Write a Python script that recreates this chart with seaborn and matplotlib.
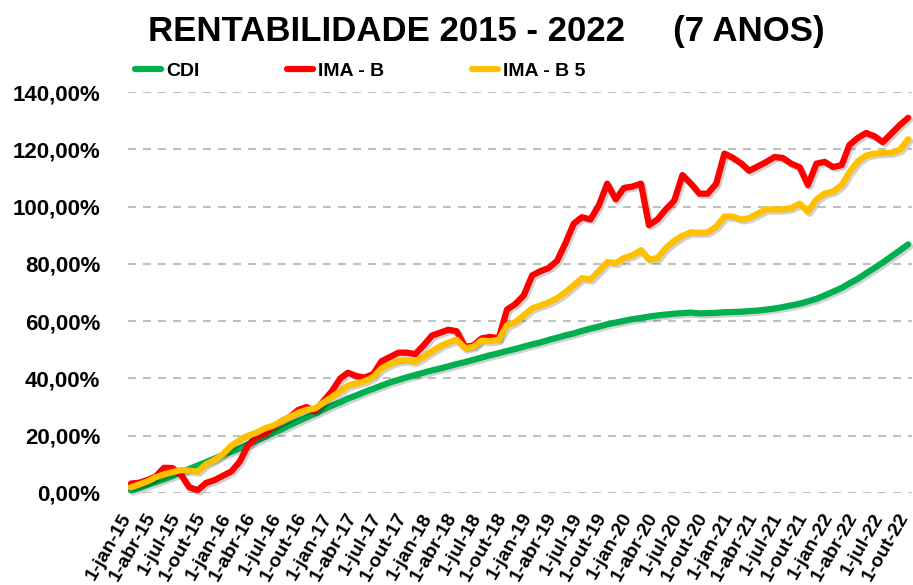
import numpy as np
import pandas as pd
import seaborn as sns
from matplotlib import pyplot as plt
from matplotlib import patheffects as pe

# dados mensais, jan-2015 a out-2022 (% acumulado)
cdi = [
    0.9, 1.8, 2.8, 3.8, 4.8, 5.9, 7.2, 8.4, 9.6, 10.8, 12.0, 13.3,
    14.4, 15.6, 16.9, 18.2, 19.5, 20.9, 22.2, 23.7, 25.1, 26.4, 27.7, 29.1,
    30.5, 31.7, 33.0, 34.1, 35.3, 36.4, 37.5, 38.6, 39.5, 40.4, 41.2, 42.0,
    42.8, 43.5, 44.2, 45.0, 45.7, 46.5, 47.3, 48.1, 48.8, 49.6, 50.3, 51.1,
    51.9, 52.6, 53.4, 54.2, 55.0, 55.7, 56.6, 57.4, 58.1, 58.9, 59.5, 60.1,
    60.7, 61.1, 61.6, 62.0, 62.3, 62.6, 62.8, 63.0, 62.7, 62.8, 62.9, 63.1,
    63.2, 63.3, 63.5, 63.7, 64.0, 64.4, 64.9, 65.5, 66.1, 66.9, 67.8, 69.0,
    70.3, 71.6, 73.2, 74.8, 76.7, 78.6, 80.5, 82.6, 84.7, 86.8,
]
ima_b = [
    3.3, 3.6, 4.5, 5.8, 8.8, 8.7, 6.5, 2.0, 1.0, 3.5, 4.5, 6.0,
    7.5, 11.0, 16.5, 19.5, 20.5, 23.0, 25.0, 26.5, 29.0, 30.0, 28.5, 32.0,
    35.5, 40.0, 42.0, 40.8, 40.3, 41.5, 46.0, 47.5, 49.0, 49.0, 48.5, 51.5,
    55.0, 56.0, 57.0, 56.5, 51.0, 51.5, 54.0, 54.5, 54.0, 64.0, 66.0, 69.0,
    76.0, 77.5, 78.5, 81.0, 87.0, 94.0, 96.3, 95.5, 100.5, 108.0, 102.5, 106.5,
    107.0, 108.0, 93.5, 95.5, 99.0, 102.0, 111.0, 108.0, 104.5, 104.5, 108.0, 118.5,
    117.0, 115.0, 112.5, 114.0, 115.5, 117.3, 117.0, 115.0, 113.7, 107.5, 115.0, 115.6,
    113.8, 114.5, 121.5, 124.0, 125.7, 124.5, 122.5, 125.5, 128.5, 131.0,
]
ima_b5 = [
    2.0, 3.0, 4.0, 5.5, 6.5, 7.3, 8.0, 7.8, 7.5, 10.0, 11.5, 13.5,
    16.5, 18.5, 20.0, 21.0, 22.5, 23.5, 25.0, 26.5, 28.0, 29.0, 29.5, 31.5,
    33.5, 35.5, 37.5, 38.3, 39.0, 40.5, 43.5, 45.0, 46.0, 46.3, 45.8, 47.5,
    49.5, 51.3, 52.5, 53.5, 50.5, 51.0, 53.2, 53.0, 53.5, 58.5, 59.7, 62.0,
    64.5, 65.5, 66.5, 68.0, 70.0, 72.5, 75.0, 74.5, 77.5, 80.6, 80.3, 82.0,
    83.0, 84.8, 81.5, 82.0, 85.5, 88.0, 89.8, 91.0, 90.8, 91.0, 93.0, 96.5,
    96.5, 95.5, 96.0, 97.5, 99.0, 99.0, 99.0, 99.5, 101.0, 98.2, 102.5, 104.5,
    105.3, 107.5, 112.0, 115.8, 117.8, 118.5, 118.7, 118.8, 119.8, 123.5,
]
series = ["CDI", "IMA - B", "IMA - B 5"]
cores = ["#00B050", "#FF0000", "#FFC000"]
meses_pt = {1: "jan", 4: "abr", 7: "jul", 10: "out"}

datas = pd.date_range("2015-01-01", periods=len(cdi), freq="MS")
df = pd.DataFrame({"data": datas, "CDI": cdi, "IMA - B": ima_b, "IMA - B 5": ima_b5})
df = df.melt(id_vars="data", var_name="serie", value_name="valor")

sns.set_style("white")
plt.rcParams["font.family"] = ["Liberation Sans", "DejaVu Sans"]
plt.rcParams["font.weight"] = "bold"
plt.rcParams["text.color"] = "black"
plt.rcParams["xtick.color"] = "black"
plt.rcParams["ytick.color"] = "black"

fig = plt.figure(figsize=(9.13, 5.85), dpi=100)
ax = fig.add_axes([128 / 913, 1 - 493 / 585, (912 - 128) / 913, (493 - 92) / 585])

sns.lineplot(
    data=df, x="data", y="valor", hue="serie", hue_order=series,
    palette=dict(zip(series, cores)), linewidth=4.5, ax=ax,
)
for ln in ax.lines:
    ln.set_solid_capstyle("round")
    ln.set_solid_joinstyle("round")
    ln.set_clip_on(False)
    ln.set_path_effects([
        pe.SimpleLineShadow(offset=(1.5, -1.5), shadow_color="k", alpha=0.18),
        pe.Normal(),
    ])

ax.set_ylim(0, 140)
ax.set_yticks(np.arange(0, 141, 20))
ax.set_yticklabels([f"{v:.2f}".replace(".", ",") + "%" for v in np.arange(0, 141, 20)])
ax.set_xlim(datas[0] - pd.Timedelta(days=11), datas[-1] + pd.Timedelta(days=14))
ticks = [d for d in datas if d.month in meses_pt]
ax.set_xticks(ticks)
ax.set_xticklabels([f"1-{meses_pt[d.month]}-{d.strftime('%y')}" for d in ticks],
                   rotation=60, ha="right", va="baseline", rotation_mode="anchor")
ax.tick_params(axis="y", length=0, pad=20, labelsize=16)
ax.tick_params(axis="x", length=0, pad=17, labelsize=14)
ax.yaxis.grid(True, color="#C0C0C0", linestyle=(0, (3.8, 3.4)), linewidth=1.5)
ax.set_axisbelow(True)
ax.set_xlabel("")
ax.set_ylabel("")
sns.despine(ax=ax, left=True, bottom=True)

sns.move_legend(
    ax, "center left", bbox_to_anchor=(135 / 913, 1 - 71 / 585),
    bbox_transform=fig.transFigure, ncol=3, frameon=False, title=None,
    borderpad=0, borderaxespad=0, handlelength=1.35, handletextpad=0.25,
    columnspacing=4.5,
    prop={"family": ["Liberation Sans Narrow", "Liberation Sans"], "weight": "bold", "size": 14},
)
for h in ax.get_legend().get_lines():
    h.set_linewidth(4.5)
    h.set_solid_capstyle("round")

fig.text(486 / 913, 1 - 31 / 585, "RENTABILIDADE 2015 - 2022     (7 ANOS)",
         ha="center", va="center", fontsize=25, fontweight="bold")

plt.savefig("out.png", dpi=100)
